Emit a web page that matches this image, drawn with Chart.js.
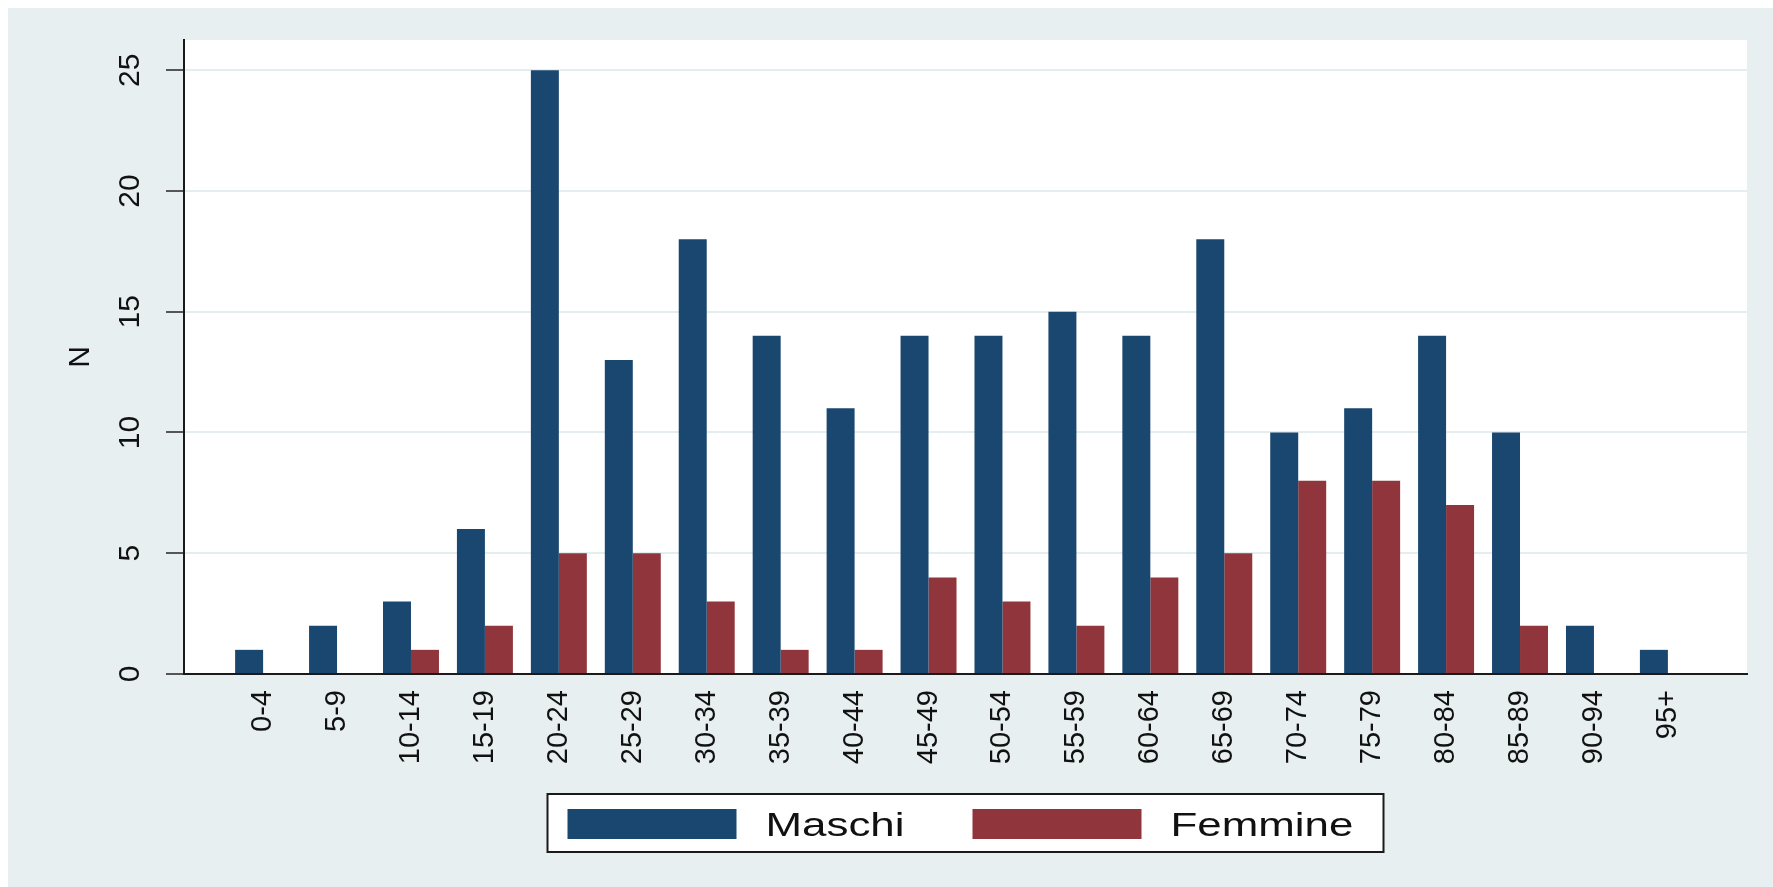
<!DOCTYPE html>
<html>
<head>
<meta charset="utf-8">
<title>Classi di età</title>
<script src="https://cdn.jsdelivr.net/npm/chart.js@4.4.1/dist/chart.umd.min.js"></script>
<style>
    html, body { margin: 0; padding: 0; background: #fff; }
    canvas { display: block; }
</style>
</head>
<body>
<canvas id="ageChart" width="1773" height="887"></canvas>
<script>
// age classes and counts
const ageClasses = ['0-4', '5-9', '10-14', '15-19', '20-24', '25-29', '30-34', '35-39', '40-44', '45-49',
    '50-54', '55-59', '60-64', '65-69', '70-74', '75-79', '80-84', '85-89', '90-94', '95+'];
const maschi = [1, 2, 3, 6, 25, 13, 18, 14, 11, 14, 14, 15, 14, 18, 10, 11, 14, 10, 2, 1];
const femmine = [0, 0, 1, 2, 5, 5, 3, 1, 1, 4, 3, 2, 4, 5, 8, 8, 7, 2, 0, 0];
const yTicks = [0, 5, 10, 15, 20, 25];

const FONT = "'Liberation Sans', Arial, sans-serif";

// light bluish frame + white plot region, like the stata scheme
const stataBackground = {
    id: 'stataBackground',
    beforeDraw(chart) {
        const { ctx, chartArea } = chart;
        ctx.save();
        ctx.fillStyle = '#ffffff';
        ctx.fillRect(0, 0, chart.width, chart.height);
        ctx.fillStyle = '#e8eff1';
        ctx.fillRect(8, 8, chart.width - 8, chart.height - 8);
        ctx.fillStyle = '#ffffff';
        ctx.fillRect(chartArea.left, chartArea.top, chartArea.right - chartArea.left, chartArea.bottom - chartArea.top);
        ctx.restore();
    }
};

// legend inside a framed box under the axis labels
const boxLegend = {
    id: 'boxLegend',
    afterDraw(chart) {
        const { ctx, chartArea } = chart;
        const cx = (chartArea.left + chartArea.right) / 2;
        const w = 836, h = 58, top = 794;
        const left = cx - w / 2;
        ctx.save();
        ctx.fillStyle = '#ffffff';
        ctx.fillRect(left, top, w, h);
        ctx.strokeStyle = '#1a1a1a';
        ctx.lineWidth = 2;
        ctx.strokeRect(left, top, w, h);
        ctx.font = '33px ' + FONT;
        ctx.textBaseline = 'alphabetic';
        ctx.textAlign = 'left';
        chart.data.datasets.forEach((ds, i) => {
            const sx = left + 20 + i * 405;
            ctx.fillStyle = ds.backgroundColor;
            ctx.fillRect(sx, top + 15, 169, 30);
            ctx.fillStyle = '#111';
            ctx.save();
            ctx.translate(sx + 198, top + 42);
            ctx.scale(1.33, 1);
            ctx.fillText(ds.label, 0, 0);
            ctx.restore();
        });
        ctx.restore();
    }
};

const ctx = document.getElementById('ageChart').getContext('2d');
new Chart(ctx, {
    type: 'bar',
    data: {
        datasets: [{
            label: 'Maschi',
            data: maschi.map((v, i) => ({ x: i, y: v })),
            backgroundColor: '#1a476f',
            borderWidth: 0
        }, {
            label: 'Femmine',
            data: femmine.map((v, i) => ({ x: i, y: v })),
            backgroundColor: '#90353b',
            borderWidth: 0
        }]
    },
    options: {
        responsive: false,
        animation: false,
        categoryPercentage: 0.757,
        barPercentage: 1.0,
        layout: { padding: { top: 40, right: 26, left: 0, bottom: 93 } },
        plugins: {
            legend: { display: false },
            tooltip: { enabled: false }
        },
        scales: {
            x: {
                type: 'linear',
                offset: false,
                min: -1.07,
                max: 20.07,
                afterBuildTicks: scale => { scale.ticks = ageClasses.map((_, i) => ({ value: i })); },
                afterFit: scale => { scale.height = 120; },
                grid: { display: false, offset: false, drawTicks: false, tickLength: 0 },
                border: { display: true, color: '#1a1a1a', width: 2 },
                ticks: {
                    autoSkip: false,
                    minRotation: 90,
                    maxRotation: 90,
                    padding: 16,
                    color: '#111',
                    font: { family: FONT, size: 29 },
                    callback: value => ageClasses[value]
                }
            },
            y: {
                min: 0,
                max: 26.25,
                afterBuildTicks: scale => { scale.ticks = yTicks.map(v => ({ value: v })); },
                afterFit: scale => { scale.width = 184; },
                grid: {
                    color: c => (c.tick && c.tick.value === 0) ? 'rgba(0,0,0,0)' : '#e4edf0',
                    lineWidth: 2,
                    tickColor: '#555',
                    tickLength: 18,
                    tickWidth: 2
                },
                border: { display: true, color: '#1a1a1a', width: 2 },
                ticks: {
                    minRotation: 90,
                    maxRotation: 90,
                    crossAlign: 'center',
                    padding: 19,
                    color: '#111',
                    font: { family: FONT, size: 30 }
                },
                title: {
                    display: true,
                    text: 'N',
                    color: '#111',
                    font: { family: FONT, size: 30 },
                    padding: { top: 63, bottom: 0 }
                }
            }
        }
    },
    plugins: [stataBackground, boxLegend]
});
</script>
</body>
</html>
